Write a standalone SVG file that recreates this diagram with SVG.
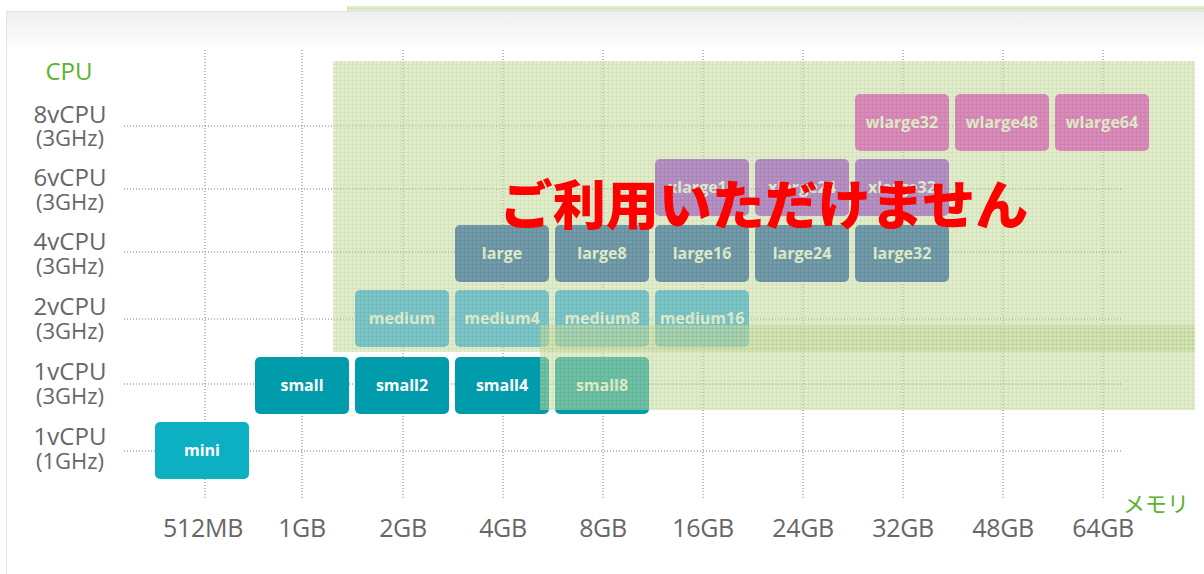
<svg xmlns="http://www.w3.org/2000/svg" width="1204" height="574" viewBox="0 0 1204 574">
<defs>
<linearGradient id="cardGrad" x1="0" y1="0" x2="0" y2="1" gradientUnits="userSpaceOnUse" gradientTransform="translate(0,11) scale(1,40)">
<stop offset="0" stop-color="#eeeeee"/>
<stop offset="1" stop-color="#ffffff"/>
</linearGradient>
<pattern id="hatch" width="4" height="4" patternUnits="userSpaceOnUse">
<rect width="4" height="4" fill="#c6da9e"/>
<rect x="0" y="0" width="1" height="4" fill="#b3cd85"/>
<rect x="0" y="0" width="4" height="1" fill="#b3cd85"/>
<rect x="2" y="2" width="1" height="1" fill="#dce8c2"/>
</pattern>
<style>
.grid line{stroke:#7a7a7a;stroke-width:1;stroke-dasharray:1 2;fill:none}
.node rect{rx:5;ry:5}
.node text{font-family:"Open Sans","Liberation Sans",sans-serif;font-weight:bold;font-size:16px;fill:#ffffff;text-anchor:middle}
.cyan rect{fill:#0cb0c2}
.teal rect{fill:#009cac}
.med rect{fill:#22a7fc}
.slate rect{fill:#0a4ab8}
.purple rect{fill:#a032f0}
.pink rect{fill:#f028dc}
.ax{font-family:"Open Sans","Liberation Sans",sans-serif;fill:#666666;text-anchor:middle}
.ax1{font-size:24px}
.ax2{font-size:22px}
.mem{font-family:"Open Sans","Liberation Sans",sans-serif;font-size:25px;fill:#666666;text-anchor:middle;letter-spacing:-0.3px}
.green{fill:#5eb12f}
.overlay{fill:url(#hatch);opacity:0.55}
</style>
</defs>
<rect x="0" y="0" width="1204" height="574" fill="#ffffff"/>
<rect class="overlay" x="347" y="6" width="857" height="5"/>
<rect x="6.5" y="11.5" width="1220" height="600" fill="url(#cardGrad)" stroke="#e4e4e4" stroke-width="1"/>

<g id="grid" class="grid">
<line x1="205" y1="50" x2="205" y2="500"/>
<line x1="302" y1="50" x2="302" y2="500"/>
<line x1="403" y1="50" x2="403" y2="500"/>
<line x1="503" y1="50" x2="503" y2="500"/>
<line x1="603" y1="50" x2="603" y2="500"/>
<line x1="703" y1="50" x2="703" y2="500"/>
<line x1="803" y1="50" x2="803" y2="500"/>
<line x1="903" y1="50" x2="903" y2="500"/>
<line x1="1003" y1="50" x2="1003" y2="500"/>
<line x1="1103" y1="50" x2="1103" y2="500"/>
<line x1="124" y1="126" x2="1121" y2="126"/>
<line x1="124" y1="189" x2="1121" y2="189"/>
<line x1="124" y1="252" x2="1121" y2="252"/>
<line x1="124" y1="319" x2="1121" y2="319"/>
<line x1="124" y1="384" x2="1121" y2="384"/>
<line x1="124" y1="451" x2="1121" y2="451"/>
</g>

<g id="y-axis">
<text class="ax green" x="69" y="80" style="font-size:24px">CPU</text>
<text class="ax ax1" x="70" y="123">8vCPU</text>
<text class="ax ax2" x="70" y="146">(3GHz)</text>
<text class="ax ax1" x="70" y="186">6vCPU</text>
<text class="ax ax2" x="70" y="210">(3GHz)</text>
<text class="ax ax1" x="70" y="250">4vCPU</text>
<text class="ax ax2" x="70" y="274">(3GHz)</text>
<text class="ax ax1" x="70" y="315">2vCPU</text>
<text class="ax ax2" x="70" y="339">(3GHz)</text>
<text class="ax ax1" x="70" y="380">1vCPU</text>
<text class="ax ax2" x="70" y="404">(3GHz)</text>
<text class="ax ax1" x="70" y="445">1vCPU</text>
<text class="ax ax2" x="70" y="469">(1GHz)</text>
</g>

<g id="x-axis">
<text class="mem" x="203" y="537">512MB</text>
<text class="mem" x="302" y="537">1GB</text>
<text class="mem" x="403" y="537">2GB</text>
<text class="mem" x="503" y="537">4GB</text>
<text class="mem" x="603" y="537">8GB</text>
<text class="mem" x="703" y="537">16GB</text>
<text class="mem" x="803" y="537">24GB</text>
<text class="mem" x="903" y="537">32GB</text>
<text class="mem" x="1003" y="537">48GB</text>
<text class="mem" x="1103" y="537">64GB</text>
<text x="1123" y="512" class="green" style="font-family:'Noto Sans CJK JP',sans-serif;font-size:22px">メモリ</text>
</g>

<g id="node-mini" class="node cyan"><rect x="155" y="422" width="94" height="57"/><text x="202" y="456">mini</text></g>
<g id="node-small" class="node teal"><rect x="255" y="357" width="94" height="57"/><text x="302" y="391">small</text></g>
<g id="node-small2" class="node teal"><rect x="355" y="357" width="94" height="57"/><text x="402" y="391">small2</text></g>
<g id="node-small4" class="node teal"><rect x="455" y="357" width="94" height="57"/><text x="502" y="391">small4</text></g>
<g id="node-small8" class="node teal"><rect x="555" y="357" width="94" height="57"/><text x="602" y="391">small8</text></g>
<g id="node-medium" class="node med"><rect x="355" y="290" width="94" height="57"/><text x="402" y="324">medium</text></g>
<g id="node-medium4" class="node med"><rect x="455" y="290" width="94" height="57"/><text x="502" y="324">medium4</text></g>
<g id="node-medium8" class="node med"><rect x="555" y="290" width="94" height="57"/><text x="602" y="324">medium8</text></g>
<g id="node-medium16" class="node med"><rect x="655" y="290" width="94" height="57"/><text x="702" y="324">medium16</text></g>
<g id="node-large" class="node slate"><rect x="455" y="225" width="94" height="57"/><text x="502" y="259">large</text></g>
<g id="node-large8" class="node slate"><rect x="555" y="225" width="94" height="57"/><text x="602" y="259">large8</text></g>
<g id="node-large16" class="node slate"><rect x="655" y="225" width="94" height="57"/><text x="702" y="259">large16</text></g>
<g id="node-large24" class="node slate"><rect x="755" y="225" width="94" height="57"/><text x="802" y="259">large24</text></g>
<g id="node-large32" class="node slate"><rect x="855" y="225" width="94" height="57"/><text x="902" y="259">large32</text></g>
<g id="node-xlarge16" class="node purple"><rect x="655" y="159" width="94" height="57"/><text x="702" y="193">xlarge16</text></g>
<g id="node-xlarge24" class="node purple"><rect x="755" y="159" width="94" height="57"/><text x="802" y="193">xlarge24</text></g>
<g id="node-xlarge32" class="node purple"><rect x="855" y="159" width="94" height="57"/><text x="902" y="193">xlarge32</text></g>
<g id="node-wlarge32" class="node pink"><rect x="855" y="94" width="94" height="57"/><text x="902" y="128">wlarge32</text></g>
<g id="node-wlarge48" class="node pink"><rect x="955" y="94" width="94" height="57"/><text x="1002" y="128">wlarge48</text></g>
<g id="node-wlarge64" class="node pink"><rect x="1055" y="94" width="94" height="57"/><text x="1102" y="128">wlarge64</text></g>

<g id="unavailable">
<rect class="overlay" x="333" y="61" width="862" height="291"/>
<rect class="overlay" x="540" y="325" width="655" height="85"/>
<text x="764" y="225" style="font-family:'Noto Sans CJK JP',sans-serif;font-weight:900;font-size:53px;fill:#ff0000;text-anchor:middle">ご利用いただけません</text>
</g>
</svg>
